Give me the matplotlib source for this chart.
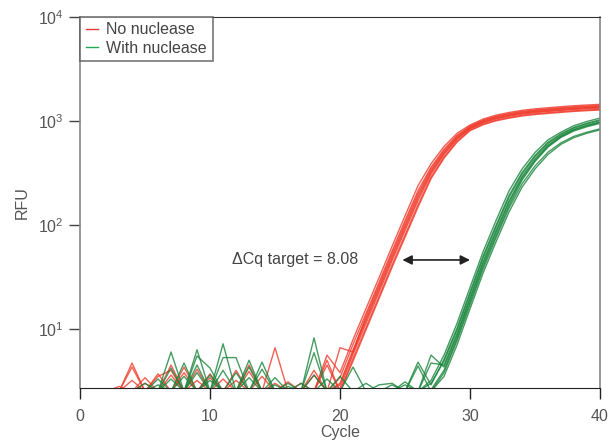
import matplotlib.pyplot as plt
import numpy as np

# %% data (RFU per cycle, cycles 1..40)
cycles = np.arange(1, 41)

no_nuclease = [
    [2.5, 2.5, 2.5, 4.7, 2.5, 2.5, 4.5, 2.5, 2.5, 2.5, 2.5, 2.5, 4.5, 2.5, 2.5, 2.5, 2.5, 2.5, 5.6, 3.8,
     7.9, 15.7, 31, 62, 122, 238, 387, 568, 758, 912, 1039, 1134, 1203, 1261, 1304, 1336, 1367, 1397, 1420, 1440],
    [2.5, 2.5, 2.5, 4.3, 2.5, 3.7, 2.5, 2.5, 2.5, 3.7, 2.5, 2.5, 2.5, 2.5, 6.6, 2.5, 2.5, 2.5, 2.5, 3.4,
     7.1, 14.1, 28, 56, 110, 213, 358, 535, 726, 890, 1014, 1107, 1175, 1232, 1273, 1304, 1335, 1364, 1387, 1405],
    [2.5, 2.5, 2.5, 2.5, 3.4, 2.5, 2.5, 4.3, 2.5, 2.5, 2.5, 3.2, 2.5, 2.5, 2.5, 2.5, 2.5, 2.5, 2.5, 3.0,
     6.3, 12.6, 25, 50, 98, 190, 330, 500, 690, 860, 980, 1070, 1135, 1190, 1230, 1260, 1290, 1318, 1340, 1358],
    [2.5, 2.5, 2.8, 2.5, 2.5, 2.5, 2.5, 2.5, 4.1, 2.5, 2.5, 2.5, 2.5, 3.5, 2.5, 2.5, 2.5, 3.6, 2.5, 2.7,
     5.7, 11.3, 22.5, 45, 88, 171, 307, 473, 662, 839, 956, 1043, 1107, 1160, 1199, 1229, 1258, 1285, 1307, 1324],
    [2.5, 2.5, 2.5, 2.5, 2.5, 3.5, 4.0, 2.5, 2.5, 2.5, 3.3, 2.5, 2.5, 2.5, 2.5, 2.5, 2.5, 2.5, 4.5, 2.5,
     5.2, 10.3, 20.5, 41, 80, 156, 288, 449, 638, 817, 931, 1017, 1078, 1131, 1169, 1197, 1226, 1252, 1273, 1290],
    [2.5, 2.5, 2.5, 2.5, 3.0, 2.5, 2.5, 3.8, 2.5, 2.5, 2.5, 2.5, 3.9, 2.5, 2.5, 2.5, 3.0, 2.5, 2.5, 6.6,
     6.0, 13.4, 26.5, 53, 104, 201, 345, 518, 709, 877, 1000, 1091, 1158, 1214, 1255, 1285, 1316, 1344, 1367, 1385],
    [2.5, 2.5, 2.5, 3.2, 2.5, 2.5, 2.5, 2.5, 2.5, 3.4, 2.5, 4.0, 2.5, 2.5, 2.5, 3.1, 2.5, 2.5, 5.0, 2.5,
     4.9, 9.8, 19.5, 39, 76, 148, 278, 437, 624, 804, 916, 1000, 1061, 1113, 1150, 1178, 1206, 1232, 1253, 1270],
    [2.5, 2.5, 2.5, 2.5, 2.5, 2.5, 3.6, 2.5, 3.2, 2.5, 2.5, 2.5, 2.5, 2.5, 3.0, 2.5, 2.5, 4.0, 2.5, 2.9,
     6.0, 12, 23.8, 47.5, 93, 180, 319, 488, 680, 851, 970, 1059, 1124, 1178, 1218, 1247, 1277, 1305, 1327, 1344],
]

with_nuclease = [
    [2.5, 2.5, 2.5, 2.5, 2.5, 2.5, 6.0, 2.5, 4.5, 2.5, 7.2, 2.5, 2.5, 4.8, 2.5, 2.5, 2.5, 8.2, 2.5, 2.5,
     2.5, 2.5, 2.9, 3.0, 2.5, 2.5, 3.2, 5.6, 11.3, 25, 55, 110, 212, 344, 496, 656, 779, 899, 986, 1063],
    [2.5, 2.5, 2.5, 2.5, 3.0, 2.5, 2.5, 2.5, 6.3, 2.5, 2.5, 2.5, 5.0, 2.5, 2.5, 2.5, 2.5, 5.9, 2.5, 2.5,
     4.3, 2.5, 2.5, 2.5, 2.5, 4.8, 2.9, 5.1, 10.2, 22.6, 50, 99, 192, 318, 465, 624, 751, 866, 950, 1024],
    [2.5, 2.5, 2.5, 2.5, 2.5, 3.3, 2.5, 4.7, 2.5, 2.5, 5.3, 5.3, 2.5, 2.5, 2.5, 3.0, 2.5, 2.5, 2.5, 2.5,
     2.5, 2.5, 2.5, 2.5, 3.1, 2.5, 4.7, 4.5, 9, 20, 44, 88, 170, 290, 430, 585, 715, 825, 905, 975],
    [2.5, 2.5, 2.5, 2.5, 2.5, 2.5, 2.5, 2.5, 5.5, 4.2, 2.5, 2.5, 4.3, 2.5, 2.5, 2.5, 3.0, 2.5, 2.5, 2.5,
     2.5, 3.0, 2.5, 2.5, 2.5, 2.5, 2.6, 4.0, 8.1, 18, 39.6, 79, 153, 269, 406, 560, 694, 800, 878, 946],
    [2.5, 2.5, 2.5, 2.5, 2.5, 2.5, 4.2, 2.5, 2.5, 3.6, 2.5, 3.8, 2.5, 2.5, 3.4, 2.5, 2.5, 2.5, 3.3, 2.5,
     2.5, 2.5, 2.5, 2.5, 2.5, 2.5, 2.5, 3.8, 7.7, 17, 37.4, 75, 145, 248, 368, 500, 615, 710, 778, 838],
    [2.5, 2.5, 2.5, 2.5, 2.5, 2.5, 2.5, 3.5, 2.5, 2.5, 4.0, 2.5, 2.5, 4.1, 2.5, 2.5, 2.5, 2.5, 2.5, 3.5,
     2.5, 2.5, 2.5, 2.9, 2.5, 2.5, 3.0, 4.9, 9.7, 21.6, 47.5, 95, 184, 307, 452, 608, 736, 850, 932, 1004],
    [2.5, 2.5, 2.5, 2.5, 2.5, 2.9, 2.5, 2.5, 3.8, 2.5, 2.5, 2.5, 3.4, 2.5, 2.5, 2.8, 2.5, 2.5, 2.5, 2.5,
     2.5, 2.5, 2.5, 2.5, 2.5, 4.4, 2.5, 3.5, 7.0, 15.6, 34.3, 68.6, 133, 230, 345, 475, 595, 690, 760, 819],
    [2.5, 2.5, 2.5, 2.5, 2.5, 2.5, 3.3, 2.5, 2.5, 3.2, 2.5, 2.5, 2.5, 2.5, 2.9, 2.5, 2.5, 3.6, 2.5, 2.5,
     2.5, 2.5, 2.5, 2.5, 2.9, 2.5, 5.6, 4.3, 8.6, 19.2, 42, 84.5, 163, 280, 417, 572, 705, 817, 896, 965],
]

arrow_cycles = [24.8, 30.0]
arrow_rfu = 46
label_text = "\u0394Cq target = 8.08"

# %% plot
plt.rcParams["font.family"] = ["Liberation Sans", "DejaVu Sans"]
fig = plt.figure(figsize=(6.11, 4.42), dpi=100)
ax = fig.add_axes([0.131, 0.122, 0.851, 0.840])

red = "#f03828"
green = "#17843a"
for y in no_nuclease:
    ax.plot(cycles, y, color=red, lw=1.0, alpha=0.8)
for y in with_nuclease:
    ax.plot(cycles, y, color=green, lw=1.0, alpha=0.8)

ax.set_yscale("log")
ax.set_ylim(2.7, 1e4)
ax.set_xlim(0, 40)
ax.set_xticks([0, 10, 20, 30, 40])
ax.set_yticks([1e1, 1e2, 1e3, 1e4])
ax.yaxis.set_minor_locator(plt.NullLocator())

ax.annotate("", xy=(arrow_cycles[1], arrow_rfu), xytext=(arrow_cycles[0], arrow_rfu),
            arrowprops=dict(arrowstyle="<|-|>", color="#222222", lw=1.2, mutation_scale=14,
                            shrinkA=0, shrinkB=0))
ax.text(11.7, arrow_rfu, label_text, fontsize=11.5, color="#444444", va="center", ha="left")

for s in ["left", "right"]:
    ax.spines[s].set_color("#888888")
    ax.spines[s].set_linewidth(1.2)
ax.spines["top"].set_color("#333333")
ax.spines["bottom"].set_color("#222222")
ax.tick_params(axis="x", direction="out", length=8, width=1, color="#222222",
               labelcolor="#555555", labelsize=11.5, pad=7)
ax.tick_params(axis="y", direction="out", length=8, width=1, color="#444444",
               labelcolor="#555555", labelsize=11.5, pad=4)

ax.set_xlabel("Cycle", fontsize=11.5, color="#555555", labelpad=1)
ax.set_ylabel("RFU", fontsize=11.5, color="#555555", labelpad=6)

h1, = ax.plot([], [], color="#e8383a", lw=1)
h2, = ax.plot([], [], color="#22aa55", lw=1)
leg = ax.legend([h1, h2], ["No nuclease", "With nuclease"], loc="upper left",
                borderaxespad=0, fancybox=False, handlelength=0.8, handletextpad=0.5,
                fontsize=11.5, labelcolor="#444444", borderpad=0.35, labelspacing=0.2)
leg.get_frame().set_edgecolor("#555555")
leg.get_frame().set_linewidth(1.2)

fig.savefig("out.png", dpi=100)
